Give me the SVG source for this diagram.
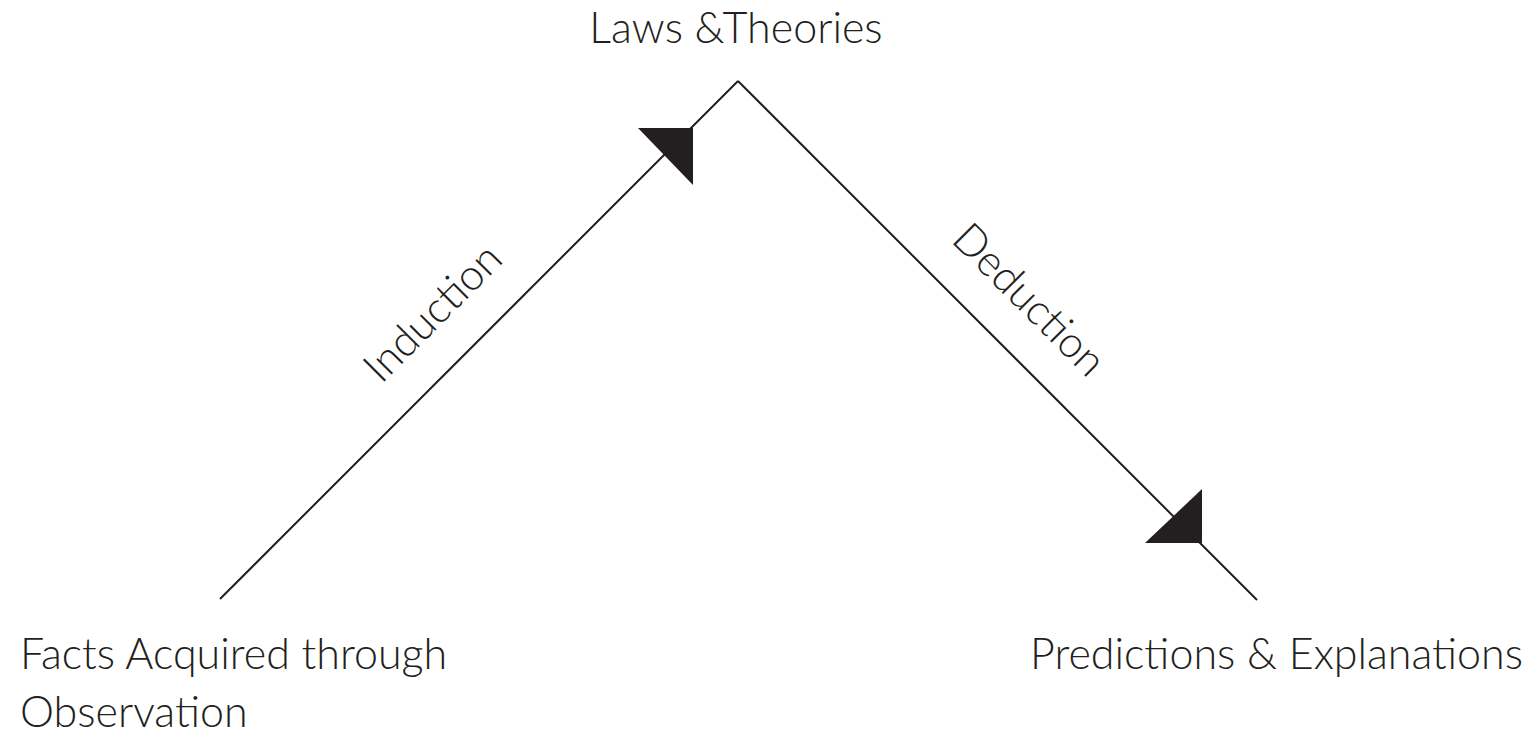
<svg xmlns="http://www.w3.org/2000/svg" width="1539" height="734" viewBox="0 0 1539 734">
<style>
.t{font-family:Lato,"Open Sans","Liberation Sans",sans-serif;font-weight:300;font-size:43px;fill:#231f20}
.ln{stroke:#231f20;stroke-width:2;fill:none}
.ah{fill:#231f20}
</style>
<rect width="1539" height="734" fill="#fff"/>
<g id="connectors">
<line class="ln" x1="220" y1="599" x2="738" y2="81"/>
<line class="ln" x1="738" y1="81" x2="1257" y2="600"/>
<polygon class="ah" points="693,128 638,128 693,185"/>
<polygon class="ah" points="1202,543 1202,489 1145,543"/>
<text class="t" transform="translate(443,323) rotate(-45)" text-anchor="middle">Induction</text>
<text class="t" transform="translate(1019,310) rotate(45)" text-anchor="middle">Deduction</text>
</g>
<g id="node-laws"><text class="t" x="736" y="43" text-anchor="middle">Laws &amp;Theories</text></g>
<g id="node-facts"><text class="t" x="20" y="669">Facts Acquired through</text><text class="t" x="20" y="727">Observation</text></g>
<g id="node-predictions"><text class="t" x="1030" y="669">Predictions &amp; Explanations</text></g>
</svg>
